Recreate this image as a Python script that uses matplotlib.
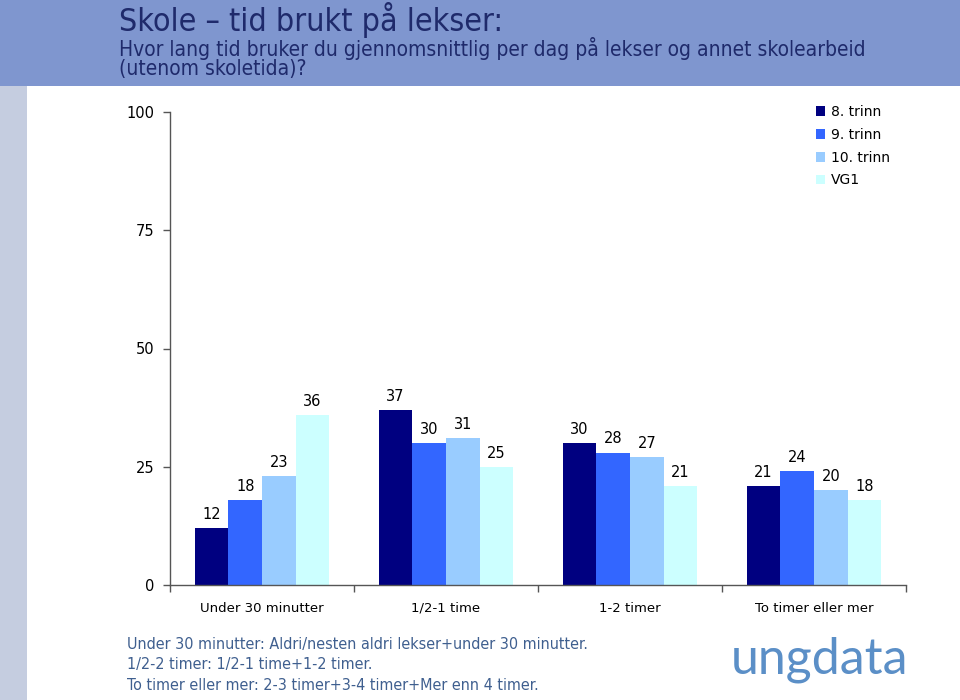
import matplotlib
matplotlib.use("Agg")
import matplotlib.pyplot as plt
import numpy as np
from matplotlib.patches import Rectangle

categories = ["Under 30 minutter", "1/2-1 time", "1-2 timer", "To timer eller mer"]
series_names = ["8. trinn", "9. trinn", "10. trinn", "VG1"]
values = {
    "8. trinn": [12, 37, 30, 21],
    "9. trinn": [18, 30, 28, 24],
    "10. trinn": [23, 31, 27, 20],
    "VG1": [36, 25, 21, 18],
}
colors = ["#000080", "#3366FF", "#99CCFF", "#CCFFFF"]
yticks = [0, 25, 50, 75, 100]

title = "Skole – tid brukt på lekser:"
subtitle = "Hvor lang tid bruker du gjennomsnittlig per dag på lekser og annet skolearbeid\n(utenom skoletida)?"
footnotes = [
    "Under 30 minutter: Aldri/nesten aldri lekser+under 30 minutter.",
    "1/2-2 timer: 1/2-1 time+1-2 timer.",
    "To timer eller mer: 2-3 timer+3-4 timer+Mer enn 4 timer.",
]

plt.rcParams['font.family'] = ['DejaVu Sans']
fig = plt.figure(figsize=(9.6, 7), dpi=100)
fig.patch.set_facecolor("white")

# header band and left strip
fig.patches.append(Rectangle((0, 1 - 86/700), 1, 86/700, transform=fig.transFigure,
                             facecolor="#7F96CF", edgecolor="none", zorder=0))
fig.patches.append(Rectangle((0, 0), 27/960, 1 - 86/700, transform=fig.transFigure,
                             facecolor="#C5CDE0", edgecolor="none", zorder=0))

fig.text(119/960, 1 - 20/700, title, fontsize=23, color="#1F2A6B", va="center", ha="left",
         fontstretch="condensed")
fig.text(119/960, 1 - 58/700, subtitle, fontsize=15, color="#1F2A6B", va="center", ha="left",
         linespacing=0.9, fontstretch="condensed")

ax = fig.add_axes([170/960, 1 - 585/700, (906 - 170)/960, (585 - 112)/700])
n = len(series_names)
x = np.arange(len(categories))
bw = 0.73 / n
for i, name in enumerate(series_names):
    pos = x - 0.73/2 + bw*(i + 0.5)
    bars = ax.bar(pos, values[name], width=bw, color=colors[i], label=name, zorder=2)
    for b, v in zip(bars, values[name]):
        ax.text(b.get_x() + b.get_width()/2, v + 1.3, f"{v}", ha="center", va="bottom",
                fontsize=10.5, color="black")

ax.set_xlim(-0.5, len(categories) - 0.5)
ax.set_ylim(0, 100)
ax.set_yticks(yticks)
ax.set_yticklabels([str(t) for t in yticks], fontsize=10.5)
ax.set_xticks(x)
ax.set_xticklabels(categories, fontsize=9.5)
ax.set_xticks(np.arange(len(categories) + 1) - 0.5, minor=True)
ax.tick_params(axis='x', which='major', length=0, pad=12)
ax.tick_params(axis='x', which='minor', length=5, width=1, color="#555555")
ax.tick_params(axis='y', length=5, width=1, color="#555555", pad=6)
for s in ["top", "right"]:
    ax.spines[s].set_visible(False)
for s in ["left", "bottom"]:
    ax.spines[s].set_color("#555555")
    ax.spines[s].set_linewidth(1)

leg = ax.legend(loc="upper left", bbox_to_anchor=(640/736, 1.027), frameon=False,
                fontsize=10, handlelength=0.7, handleheight=0.7, handletextpad=0.4,
                labelspacing=0.64, borderaxespad=0)

for k, line in enumerate(footnotes):
    fig.text(127/960, 1 - (645 + k*20)/700, line, fontsize=11.5, color="#3F5F8F",
             va="center", ha="left", fontstretch="condensed")

fig.text(819/960, 1 - 660/700, "ungdata", fontsize=36, color="#5B8FC7", va="center",
         ha="center", family=["Lato", "DejaVu Sans"])

fig.savefig("out.png", dpi=100)
